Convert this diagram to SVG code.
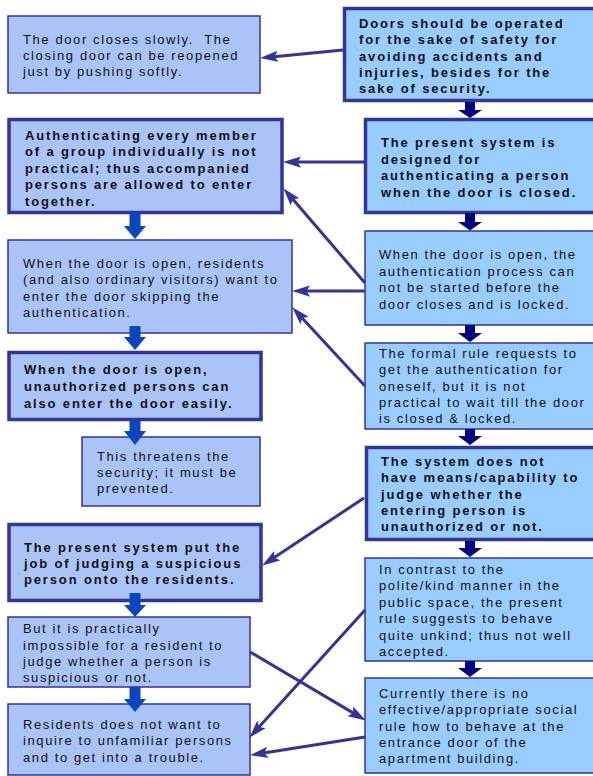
<svg xmlns="http://www.w3.org/2000/svg" width="593" height="776" viewBox="0 0 593 776">
  <defs>
    <style>
      .bg { fill: #ffffff; }
      .boxL { fill: #aac4f8; stroke: #333399; stroke-width: 1.5; }
      .boxR { fill: #99ccff; stroke: #333399; stroke-width: 1.5; }
      .bold { stroke-width: 3.5; }
      .t { font-family: "Liberation Sans", Arial, sans-serif; font-size: 13px; letter-spacing: 1.6px; fill: #111111; white-space: pre; }
      .tb { font-weight: bold; letter-spacing: 1.85px; }
      .link { fill: none; stroke: #333399; stroke-width: 3; marker-end: url(#head); }
      .downL { fill: #0a47bf; }
      .downR { fill: #000080; }
    </style>
    <marker id="head" markerUnits="userSpaceOnUse" markerWidth="18" markerHeight="12" viewBox="0 0 16 10" refX="8" refY="5" orient="auto">
      <path d="M0,0 L16,5 L0,10 L3,5 Z" fill="#333399"/>
    </marker>
  </defs>

  <rect class="bg" x="0" y="0" width="593" height="776"/>

  <!-- left column -->
  <g id="door-closes-slowly">
    <rect class="boxL" x="8" y="16" width="252" height="77"/>
    <text class="t"><tspan x="23" y="44">The door closes slowly.  The</tspan><tspan x="23" y="60">closing door can be reopened</tspan><tspan x="23" y="76">just by pushing softly.</tspan></text>
  </g>

  <g id="group-entry">
    <rect class="boxL bold" x="9" y="119.5" width="273" height="93"/>
    <text class="t tb"><tspan x="25" y="139.5">Authenticating every member</tspan><tspan x="25" y="156">of a group individually is not</tspan><tspan x="25" y="172.5">practical; thus accompanied</tspan><tspan x="25" y="189">persons are allowed to enter</tspan><tspan x="25" y="205.5">together.</tspan></text>
  </g>

  <g id="residents-skip">
    <rect class="boxL" x="8" y="240" width="284" height="93"/>
    <text class="t"><tspan x="23" y="267.5">When the door is open, residents</tspan><tspan x="23" y="284">(and also ordinary visitors) want to</tspan><tspan x="23" y="300.5">enter the door skipping the</tspan><tspan x="23" y="317">authentication.</tspan></text>
  </g>

  <g id="unauthorized-enter">
    <rect class="boxL bold" x="9" y="352.5" width="252" height="67"/>
    <text class="t tb"><tspan x="24" y="374">When the door is open,</tspan><tspan x="24" y="390.5">unauthorized persons can</tspan><tspan x="24" y="407.5">also enter the door easily.</tspan></text>
  </g>

  <g id="security-threat">
    <rect class="boxL" x="82" y="437" width="178" height="69"/>
    <text class="t"><tspan x="97" y="460.5">This threatens the</tspan><tspan x="97" y="477">security; it must be</tspan><tspan x="97" y="493">prevented.</tspan></text>
  </g>

  <g id="judging-on-residents">
    <rect class="boxL bold" x="9" y="524.5" width="252" height="76"/>
    <text class="t tb"><tspan x="24" y="551.5">The present system put the</tspan><tspan x="24" y="568">job of judging a suspicious</tspan><tspan x="24" y="584">person onto the residents.</tspan></text>
  </g>

  <g id="impossible-to-judge">
    <rect class="boxL" x="8" y="617" width="242" height="70"/>
    <text class="t"><tspan x="23" y="633">But it is practically</tspan><tspan x="23" y="650">impossible for a resident to</tspan><tspan x="23" y="666">judge whether a person is</tspan><tspan x="23" y="682">suspicious or not.</tspan></text>
  </g>

  <g id="avoid-trouble">
    <rect class="boxL" x="8" y="704" width="242" height="71"/>
    <text class="t"><tspan x="23" y="728.5">Residents does not want to</tspan><tspan x="23" y="745">inquire to unfamiliar persons</tspan><tspan x="23" y="761.5">and to get into a trouble.</tspan></text>
  </g>

  <!-- right column -->
  <g id="safety-operation">
    <rect class="boxR bold" x="344.5" y="8.5" width="260" height="92"/>
    <text class="t tb"><tspan x="359" y="28">Doors should be operated</tspan><tspan x="359" y="44">for the sake of safety for</tspan><tspan x="359" y="60.5">avoiding accidents and</tspan><tspan x="359" y="77">injuries, besides for the</tspan><tspan x="359" y="93">sake of security.</tspan></text>
  </g>

  <g id="closed-door-auth">
    <rect class="boxR bold" x="365.5" y="119.5" width="240" height="93"/>
    <text class="t tb"><tspan x="381" y="147.3">The present system is</tspan><tspan x="381" y="163.8">designed for</tspan><tspan x="381" y="180.3">authenticating a person</tspan><tspan x="381" y="196.8">when the door is closed.</tspan></text>
  </g>

  <g id="auth-not-started">
    <rect class="boxR" x="365" y="231" width="240" height="94"/>
    <text class="t"><tspan x="379" y="259.3">When the door is open, the</tspan><tspan x="379" y="275.7">authentication process can</tspan><tspan x="379" y="292">not be started before the</tspan><tspan x="379" y="308.5">door closes and is locked.</tspan></text>
  </g>

  <g id="formal-rule">
    <rect class="boxR" x="365" y="343" width="240" height="86"/>
    <text class="t"><tspan x="379" y="357.7">The formal rule requests to</tspan><tspan x="379" y="374">get the authentication for</tspan><tspan x="379" y="390.5">oneself, but it is not</tspan><tspan x="379" y="407">practical to wait till the door</tspan><tspan x="379" y="423.4">is closed &amp; locked.</tspan></text>
  </g>

  <g id="no-judging-means">
    <rect class="boxR bold" x="366.5" y="447.5" width="240" height="92"/>
    <text class="t tb"><tspan x="381" y="465.7">The system does not</tspan><tspan x="381" y="482">have means/capability to</tspan><tspan x="381" y="498.5">judge whether the</tspan><tspan x="381" y="515">entering person is</tspan><tspan x="381" y="531.4">unauthorized or not.</tspan></text>
  </g>

  <g id="unkind-rule">
    <rect class="boxR" x="365" y="558" width="240" height="103"/>
    <text class="t"><tspan x="379" y="574">In contrast to the</tspan><tspan x="379" y="590.4">polite/kind manner in the</tspan><tspan x="379" y="606.8">public space, the present</tspan><tspan x="379" y="623.2">rule suggests to behave</tspan><tspan x="379" y="639.6">quite unkind; thus not well</tspan><tspan x="379" y="656">accepted.</tspan></text>
  </g>

  <g id="no-social-rule">
    <rect class="boxR" x="365" y="678" width="240" height="95"/>
    <text class="t"><tspan x="379" y="697.7">Currently there is no</tspan><tspan x="379" y="714">effective/appropriate social</tspan><tspan x="379" y="730.5">rule how to behave at the</tspan><tspan x="379" y="747">entrance door of the</tspan><tspan x="379" y="763.4">apartment building.</tspan></text>
  </g>

  <!-- connectors -->
  <g id="connectors">
    <line class="link" x1="343" y1="50" x2="269" y2="57.2"/>
    <line class="link" x1="364" y1="162" x2="292" y2="162"/>
    <line class="link" x1="365" y1="283" x2="289.2" y2="195.1"/>
    <line class="link" x1="365" y1="291" x2="301" y2="291"/>
    <line class="link" x1="365" y1="386" x2="298.4" y2="313.9"/>
    <line class="link" x1="364" y1="498" x2="269.7" y2="560.6"/>
    <line class="link" x1="365" y1="610" x2="255.4" y2="731.1"/>
    <line class="link" x1="250" y1="652" x2="358.1" y2="715.9"/>
    <line class="link" x1="365" y1="737" x2="258.9" y2="753.8"/>

    <!-- block arrows, left chain -->
    <path class="downL" d="M129.5,213 H140.5 V226 H146 L135,239 L124,226 H129.5 Z"/>
    <path class="downL" d="M129.5,326 H140.5 V337 H146 L135,350 L124,337 H129.5 Z"/>
    <path class="downL" d="M129.5,421 H140.5 V431 H146 L135,445 L124,431 H129.5 Z"/>
    <path class="downL" d="M129.5,593 H140.5 V605 H146 L135,617 L124,605 H129.5 Z"/>
    <path class="downL" d="M129.5,687 H140.5 V699 H146 L135,712 L124,699 H129.5 Z"/>

    <!-- block arrows, right chain -->
    <path class="downR" d="M465,102 H475 V110 H482 L470,118 L458,110 H465 Z"/>
    <path class="downR" d="M465,213 H475 V222 H482 L470,230.5 L458,222 H465 Z"/>
    <path class="downR" d="M465,325 H475 V333 H482 L470,342 L458,333 H465 Z"/>
    <path class="downR" d="M465,429 H475 V436 H482 L470,445 L458,436 H465 Z"/>
    <path class="downR" d="M465,541 H475 V548 H482 L470,557 L458,548 H465 Z"/>
    <path class="downR" d="M465,661 H475 V668 H482 L470,677 L458,668 H465 Z"/>
  </g>
</svg>
